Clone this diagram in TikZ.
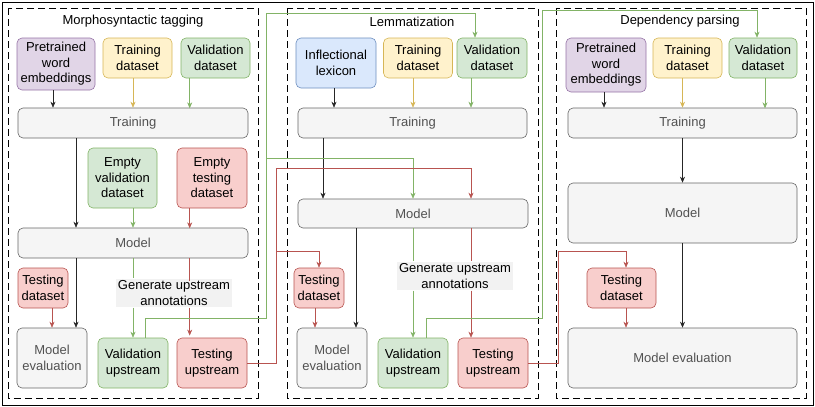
\documentclass[tikz,border=0pt]{standalone}
\usepackage{fontspec}
\setmainfont{Liberation Sans}
\usepackage{tikz}
\usetikzlibrary{arrows.meta,positioning,calc}

\definecolor{grayF}{HTML}{F5F5F5}\definecolor{grayD}{HTML}{666666}
\definecolor{purF}{HTML}{E1D5E7}\definecolor{purD}{HTML}{9673A6}
\definecolor{yelF}{HTML}{FFF2CC}\definecolor{yelD}{HTML}{D6B656}
\definecolor{grnF}{HTML}{D5E8D4}\definecolor{grnD}{HTML}{82B366}
\definecolor{redF}{HTML}{F8CECC}\definecolor{redD}{HTML}{B85450}
\definecolor{bluF}{HTML}{DAE8FC}\definecolor{bluD}{HTML}{6C8EBF}

\begin{document}
\begin{tikzpicture}[x=1pt,y=-1pt,
  every node/.style={font=\fontsize{13}{15.5}\selectfont, align=center, inner sep=1pt},
  box/.style={draw, rounded corners=5pt, line width=0.6pt},
  gbox/.style={box, fill=grayF, draw=grayD, text=grayD!80!black},
  pbox/.style={box, fill=purF, draw=purD},
  ybox/.style={box, fill=yelF, draw=yelD},
  vbox/.style={box, fill=grnF, draw=grnD},
  rbox/.style={box, fill=redF, draw=redD},
  bbox/.style={box, fill=bluF, draw=bluD},
  panel/.style={draw, dashed, dash pattern=on 7pt off 4pt, line width=0.8pt},
  arr/.style={-{Stealth[length=6pt,width=5pt]}, line width=0.6pt},
  blk/.style={arr, black!85},
  yel/.style={arr, yelD},
  grn/.style={arr, grnD},
  red/.style={arr, redD},
  note/.style={fill=gray!10, inner sep=2pt}
]
\useasboundingbox (0,0) rectangle (815,407);
\draw[line width=0.8pt] (2,2) rectangle (813,405);

% panels
\draw[panel] (8,8) rectangle (258,398);
\draw[panel] (287,8) rectangle (538,398);
\draw[panel] (556,8) rectangle (806,398);
\node (tA) at (133,21) {Morphosyntactic tagging};
\node (tB) at (412,22) {Lemmatization};
\node (tC) at (680,21) {Dependency parsing};

% columns for vertical connectors
\coordinate (xa1) at (76,0);  \coordinate (xa2) at (53,0);
\coordinate (xb1) at (323,0); \coordinate (xb2) at (356,0); \coordinate (xb3) at (315,0);
\coordinate (xb4) at (413,0); \coordinate (xb5) at (471,0); \coordinate (xb6) at (334,0);
\coordinate (xc1) at (604,0); \coordinate (xc2) at (626,0);

% Morphosyntactic tagging
\node[pbox, minimum width=78pt, minimum height=52pt] (embA) at (56,64) {Pretrained\\word\\embeddings};
\node[ybox, minimum width=69pt, minimum height=40pt] (trdA) at (137.5,58) {Training\\dataset};
\node[vbox, minimum width=69pt, minimum height=40pt] (vadA) at (215.5,58) {Validation\\dataset};
\node[gbox, minimum width=230pt, minimum height=30pt] (trainA) at (133,123) {Training};
\node[vbox, minimum width=69pt, minimum height=60pt] (evaA) at (122.5,178) {Empty\\validation\\dataset};
\node[rbox, minimum width=70pt, minimum height=60pt] (etsA) at (212,178) {Empty\\testing\\dataset};
\node[gbox, minimum width=230pt, minimum height=30pt] (modelA) at (133,243) {Model};
\node[rbox, minimum width=50pt, minimum height=40pt] (tsdA) at (43,288) {Testing\\dataset};
\node[gbox, minimum width=70pt, minimum height=60pt] (evalA) at (52,358) {Model\\evaluation};
\node[vbox, minimum width=70pt, minimum height=50pt] (vupA) at (133,363) {Validation\\upstream};
\node[rbox, minimum width=70pt, minimum height=50pt] (tupA) at (212,363) {Testing\\upstream};
\node[note] (genA) at (174,293) {Generate upstream\\annotations};

\draw[blk] (embA.south -| xa2) -- (trainA.north -| xa2);
\draw[yel] (trdA.south -| vupA) -- (trainA.north -| vupA);
\draw[grn] (vadA.south -| tupA.west) ++(13,0) -- ++(0,30);
\draw[blk] (trainA.south -| xa1) -- (modelA.north -| xa1);
\draw[grn] (evaA.south -| vupA) -- (modelA.north -| vupA);
\draw[red] (etsA.south -| tupA.west) ++(13,0) -- ++(0,20);
\draw[blk] (modelA.south -| xa1) -- (evalA.north -| xa1);
\draw[red] (tsdA.south -| evalA) -- (evalA.north -| evalA);
\draw[grnD, line width=0.6pt] (modelA.south -| vupA) -- (genA.north -| vupA);
\draw[grn] (genA.south -| vupA) -- (vupA.north);
\draw[redD, line width=0.6pt] (modelA.south -| tupA.west) ++(13,0) -- ++(0,23);
\draw[red] (genA.south -| tupA.west) ++(13,0) -- ++(0,28);

% Lemmatization
\node[bbox, minimum width=80pt, minimum height=50pt] (lexB) at (336,63) {Inflectional\\lexicon};
\node[ybox, minimum width=69pt, minimum height=40pt] (trdB) at (418,58) {Training\\dataset};
\node[vbox, minimum width=70pt, minimum height=40pt] (vadB) at (492,58) {Validation\\dataset};
\node[gbox, minimum width=229pt, minimum height=30pt] (trainB) at (412.5,123) {Training};
\node[gbox, minimum width=230pt, minimum height=29pt] (modelB) at (413,213.5) {Model};
\node[rbox, minimum width=50pt, minimum height=40pt] (tsdB) at (319,288) {Testing\\dataset};
\node[gbox, minimum width=70pt, minimum height=60pt] (evalB) at (332,358) {Model\\evaluation};
\node[vbox, minimum width=70pt, minimum height=50pt] (vupB) at (413,363) {Validation\\upstream};
\node[rbox, minimum width=70pt, minimum height=50pt] (tupB) at (493,363) {Testing\\upstream};
\node[note] (genB) at (455,276) {Generate upstream\\annotations};

\draw[blk] (lexB.south -| xb6) -- (trainB.north -| xb6);
\draw[yel] (trdB.south -| xb4) -- (trainB.north -| xb4);
\draw[grn] (vadB.south -| xb5) -- (trainB.north -| xb5);
\draw[blk] (trainB.south -| xb1) -- (modelB.north -| xb1);
\draw[blk] (modelB.south -| xb2) -- (evalB.north -| xb2);
\draw[red] (tsdB.south -| xb3) -- (evalB.north -| xb3);
\draw[grnD, line width=0.6pt] (modelB.south -| xb4) -- (genB.north -| xb4);
\draw[grn] (genB.south -| xb4) -- (vupB.north);
\draw[redD, line width=0.6pt] (modelB.south -| xb5) -- (genB.north -| xb5);
\draw[red] (genB.south -| xb5) -- (tupB.north -| xb5);

% Dependency parsing
\node[pbox, minimum width=80pt, minimum height=54pt] (embC) at (606,65) {Pretrained\\word\\embeddings};
\node[ybox, minimum width=69pt, minimum height=40pt] (trdC) at (687.5,58) {Training\\dataset};
\node[vbox, minimum width=68pt, minimum height=40pt] (vadC) at (763,58) {Validation\\dataset};
\node[gbox, minimum width=229pt, minimum height=30pt] (trainC) at (682.5,123) {Training};
\node[gbox, minimum width=229pt, minimum height=60pt] (modelC) at (682.5,213) {Model};
\node[rbox, minimum width=69pt, minimum height=40pt] (tsdC) at (621.5,288) {Testing\\dataset};
\node[gbox, minimum width=229pt, minimum height=60pt] (evalC) at (682.5,358) {Model evaluation};

\draw[blk] (embC.south -| xc1) -- (trainC.north -| xc1);
\draw[yel] (trdC.south -| modelC) -- (trainC.north -| modelC);
\draw[grn] (vadC.south) ++(2,0) -- ++(0,30);
\draw[blk] (trainC.south) -- (modelC.north);
\draw[blk] (modelC.south) -- (evalC.north);
\draw[red] (tsdC.south -| xc2) -- (evalC.north -| xc2);

% hand-over between steps
\draw[grn] (vupA.north) ++(12,0) |- (266,318) -- (266,158) -| (modelB.north -| xb4);
\draw[grn] (266,158) |- (475,13) -- (vadB.north -| 475,0);
\draw[red] (tupA.east) -| (276,168) -| (modelB.north -| xb5);
\draw[red] (276,251) -| (tsdB.north);
\draw[grn] (vupB.north) ++(13,0) |- (542,318) |- (757,10) -- (vadC.north -| 757,0);
\draw[red] (tupB.east) -| (558,251) -| (tsdC.north -| xc2);
\end{tikzpicture}
\end{document}
